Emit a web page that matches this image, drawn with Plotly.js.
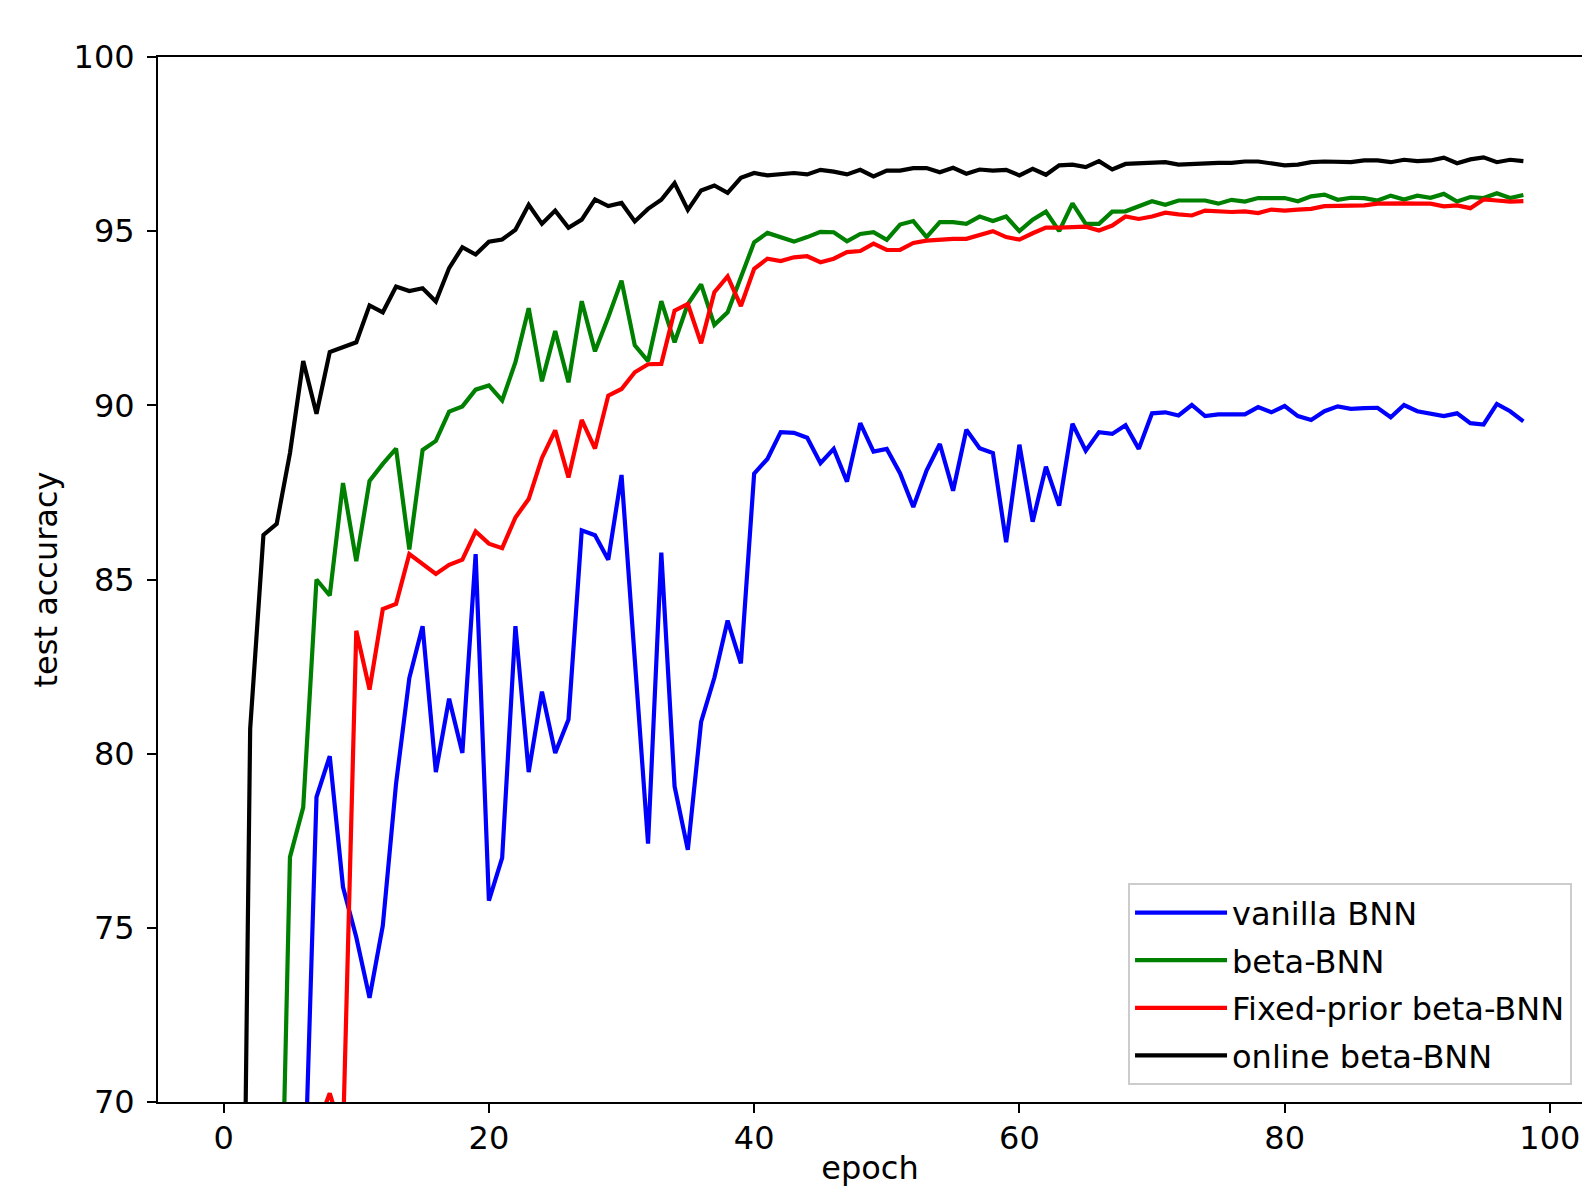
<!DOCTYPE html>
<html>
<head>
<meta charset="utf-8">
<script src="https://cdn.plot.ly/plotly-3.0.1.min.js"></script>
<style>html,body{margin:0;padding:0;background:#fff;overflow:hidden;}</style>
</head>
<body>
<div id="chart" style="width:1582px;height:1187px;"></div>
<script>
// epochs 0..98
const epochs = Array.from({length: 99}, (_, i) => i);

const vanillaBNN = [30, 40, 48, 55, 60, 63.5, 66.3, 78.75, 79.93, 76.17,
  74.73, 72.99, 75.06, 79.14, 82.17, 83.66, 79.47, 81.58, 80.02, 85.73,
  75.78, 77.01, 83.66, 79.47, 81.78, 80.02, 80.98, 86.41, 86.27, 85.57,
  88.0, 82.7, 77.42, 85.77, 79.06, 77.24, 80.91, 82.18, 83.82, 82.59,
  88.04, 88.46, 89.23, 89.21, 89.07, 88.34, 88.75, 87.81, 89.49, 88.67,
  88.75, 88.05, 87.08, 88.13, 88.89, 87.55, 89.3, 88.77, 88.63, 86.07,
  88.87, 86.66, 88.24, 87.12, 89.47, 88.7, 89.23, 89.18, 89.43, 88.75,
  89.77, 89.8, 89.71, 90.01, 89.69, 89.74, 89.74, 89.74, 89.95, 89.8,
  89.98, 89.69, 89.58, 89.83, 89.97, 89.9, 89.92, 89.93, 89.66, 90.01,
  89.83, 89.75, 89.69, 89.77, 89.49, 89.45, 90.04, 89.83, 89.54];

const betaBNN = [40, 48, 53, 57, 60.3, 77.03, 78.46, 85.0, 84.54, 87.77,
  85.53, 87.83, 88.32, 88.76, 85.86, 88.72, 88.98, 89.82, 89.97, 90.45,
  90.57, 90.14, 91.24, 92.79, 90.69, 92.13, 90.66, 92.99, 91.55, 92.53,
  93.58, 91.72, 91.27, 92.99, 91.81, 92.91, 93.47, 92.31, 92.67, 93.68,
  94.68, 94.95, 94.83, 94.7, 94.83, 94.98, 94.97, 94.71, 94.92, 94.97,
  94.75, 95.19, 95.29, 94.83, 95.26, 95.26, 95.21, 95.42, 95.29, 95.42,
  95.0, 95.33, 95.56, 95.0, 95.8, 95.21, 95.21, 95.56, 95.57, 95.71,
  95.86, 95.76, 95.88, 95.88, 95.88, 95.79, 95.9, 95.85, 95.95, 95.95,
  95.95, 95.86, 96.0, 96.05, 95.9, 95.96, 95.95, 95.88, 96.02, 95.91,
  96.02, 95.96, 96.07, 95.85, 95.98, 95.95, 96.09, 95.95, 96.04];

const fixedPriorBetaBNN = [45, 55, 60, 63, 65, 67, 68.5, 69.25, 70.25, 69.0,
  83.53, 81.84, 84.15, 84.3, 85.73, 85.45, 85.16, 85.42, 85.57, 86.38,
  86.03, 85.9, 86.78, 87.31, 88.49, 89.28, 87.93, 89.58, 88.76, 90.28,
  90.47, 90.95, 91.18, 91.19, 92.72, 92.91, 91.78, 93.25, 93.7, 92.85,
  93.92, 94.21, 94.14, 94.25, 94.28, 94.11, 94.21, 94.4, 94.43, 94.64,
  94.46, 94.46, 94.66, 94.73, 94.76, 94.78, 94.78, 94.88, 95.0, 94.83,
  94.76, 94.94, 95.1, 95.1, 95.1, 95.13, 95.02, 95.16, 95.42, 95.35,
  95.42, 95.53, 95.48, 95.45, 95.59, 95.57, 95.55, 95.57, 95.52, 95.62,
  95.59, 95.62, 95.64, 95.72, 95.72, 95.71, 95.74, 95.79, 95.81, 95.8,
  95.79, 95.79, 95.71, 95.74, 95.66, 95.91, 95.88, 95.85, 95.86];

const onlineBetaBNN = [30, 49, 80.71, 86.28, 86.6, 88.63, 91.27, 89.76, 91.53, 91.67,
  91.81, 92.87, 92.67, 93.41, 93.28, 93.36, 92.98, 93.94, 94.54, 94.33,
  94.7, 94.76, 95.04, 95.76, 95.21, 95.59, 95.1, 95.33, 95.91, 95.72,
  95.81, 95.28, 95.64, 95.9, 96.38, 95.61, 96.17, 96.31, 96.1, 96.53,
  96.67, 96.6, 96.65, 96.67, 96.63, 96.76, 96.71, 96.63, 96.76, 96.57,
  96.74, 96.74, 96.81, 96.81, 96.69, 96.82, 96.65, 96.77, 96.74, 96.76,
  96.6, 96.79, 96.62, 96.89, 96.91, 96.84, 97.01, 96.77, 96.93, 96.95,
  96.98, 96.98, 96.91, 96.93, 96.96, 96.96, 96.96, 97.0, 97.0, 96.93,
  96.89, 96.91, 96.98, 97.0, 97.0, 96.98, 97.03, 97.03, 96.98, 97.05,
  97.01, 97.03, 97.11, 96.95, 97.06, 97.12, 96.98, 97.05, 97.01];

const seriesNames = ['vanilla BNN', 'beta-BNN', 'Fixed-prior beta-BNN', 'online beta-BNN'];
const seriesColors = ['#0000ff', '#008000', '#ff0000', '#000000'];
const seriesValues = [vanillaBNN, betaBNN, fixedPriorBetaBNN, onlineBetaBNN];

const yTicks = [70, 75, 80, 85, 90, 95, 100];
const xTicks = [0, 20, 40, 60, 80, 100];

const FONT = '"DejaVu Sans", Verdana, sans-serif';
const FS = 32;

const traces = seriesValues.map((vals, i) => ({
  type: 'scatter',
  mode: 'lines',
  x: epochs,
  y: vals,
  name: seriesNames[i],
  legendgroup: 'g' + i,
  line: {color: seriesColors[i], width: 4.2, shape: 'linear'},
  hoverinfo: 'x+y+name'
}));

const layout = {
  width: 1582,
  height: 1187,
  paper_bgcolor: '#ffffff',
  plot_bgcolor: '#ffffff',
  margin: {l: 158, r: 0, t: 57, b: 85, pad: 0},
  font: {family: FONT, size: FS, color: '#000000'},
  showlegend: true,
  legend: {
    x: 0.993, y: 0.016, xanchor: 'right', yanchor: 'bottom',
    bgcolor: 'rgba(255,255,255,0.8)',
    bordercolor: '#cccccc', borderwidth: 2,
    font: {family: FONT, size: FS, color: '#000000'},
    tracegroupgap: 3,
    itemwidth: 92
  },
  xaxis: {
    range: [-4.95, 102.42],
    tickmode: 'array', tickvals: xTicks, ticktext: xTicks.map(String),
    ticks: 'outside', ticklen: 9, tickwidth: 2, tickcolor: '#000000',
    showline: true, linecolor: '#000000', linewidth: 2, mirror: true,
    showgrid: false, zeroline: false,
    tickfont: {family: FONT, size: FS, color: '#000000'},
    ticklabelstandoff: -2,
    title: {text: 'epoch', font: {family: FONT, size: FS, color: '#000000'}, standoff: 24},
    automargin: false
  },
  yaxis: {
    range: [70, 100],
    tickmode: 'array', tickvals: yTicks, ticktext: yTicks.map(String),
    ticks: 'outside', ticklen: 9, tickwidth: 2, tickcolor: '#000000',
    showline: true, linecolor: '#000000', linewidth: 2, mirror: false,
    showgrid: false, zeroline: false,
    tickfont: {family: FONT, size: FS, color: '#000000'},
    ticklabelstandoff: 6,
    title: {text: 'test accuracy', font: {family: FONT, size: FS, color: '#000000'}, standoff: 6},
    automargin: false
  }
};

Plotly.newPlot('chart', traces, layout, {displayModeBar: false, staticPlot: true});
</script>
</body>
</html>
